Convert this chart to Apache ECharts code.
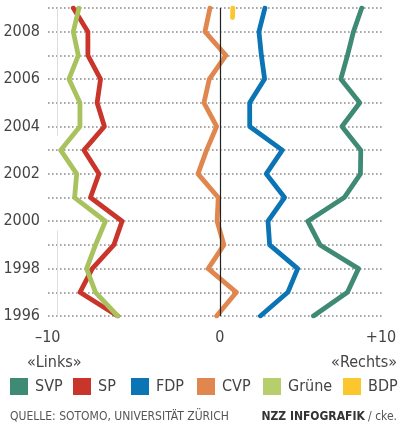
<!DOCTYPE html>
<html>
<head>
<meta charset="utf-8">
<script src="https://cdn.jsdelivr.net/npm/echarts@6/dist/echarts.min.js"></script>
<style>
  html, body { margin: 0; padding: 0; background: #fff; }
  #chart { width: 401px; height: 426px; }
</style>
</head>
<body>
<div id="chart"></div>
<script>
  // years, bottom to top
  var years = [1996, 1997, 1998, 1999, 2000, 2001, 2002, 2003, 2004, 2005, 2006, 2007, 2008, 2009];
  var yearLabels = [1996, 1998, 2000, 2002, 2004, 2006, 2008];

  // position on the left-right scale (-10 .. +10)
  var svp   = [5.77, 7.87, 8.55, 6.18, 5.42, 7.67, 8.67, 8.69, 7.53, 8.63, 7.46, 7.87, 8.24, 8.75];
  var sp    = [-6.30, -8.63, -7.87, -6.54, -6.03, -7.98, -7.46, -8.38, -7.12, -7.57, -7.36, -8.14, -8.14, -9.04];
  var fdp   = [2.50, 4.19, 4.80, 3.07, 2.97, 3.99, 2.86, 3.85, 1.84, 1.84, 2.76, 2.56, 2.41, 2.78];
  var cvp   = [-0.20, 1.02, -0.72, 0.25, -0.17, -0.10, -1.35, -0.82, -0.20, -0.98, -0.65, 0.37, -0.92, -0.61];
  var gruene = [-6.30, -7.67, -8.22, -7.67, -7.06, -8.96, -8.83, -9.82, -8.63, -8.63, -9.31, -8.73, -9.04, -8.69];
  var bdpYears = [2008.6, 2009];
  var bdp   = [0.78, 0.80];

  var xTicks = [-10, 0, 10];
  var xTickLabels = ['–10', '0', '+10'];

  var parties = ['SVP', 'SP', 'FDP', 'CVP', 'Grüne', 'BDP'];
  var colors = ['#3f8a74', '#c9352b', '#0a74b5', '#e0874f', '#a8c25e', '#fcc72c'];
  var legendColors = ['#3f8a74', '#c9352b', '#0a74b5', '#e0874f', '#b8ce6c', '#fcc72c'];
  var legendLeft = [10, 73, 131, 197, 263, 343];

  var FONT = '"Liberation Sans Narrow", "DejaVu Sans Condensed", "Roboto", sans-serif';

  function pairs(vals, ys) {
    return vals.map(function (v, i) { return [v, ys[i]]; });
  }

  var seriesData = [pairs(svp, years), pairs(sp, years), pairs(fdp, years),
                    pairs(cvp, years), pairs(gruene, years), pairs(bdp, bdpYears)];

  var series = parties.map(function (name, i) {
    return {
      name: name,
      type: 'line',
      data: seriesData[i],
      symbol: 'none',
      color: legendColors[i],
      lineStyle: { color: colors[i], width: 4.8, cap: 'round', join: 'round' },
      z: 3,
      silent: true
    };
  });

  // reference lines at -10 (faint) and 0 (black)
  series.push({
    type: 'line',
    data: [],
    silent: true,
    markLine: {
      symbol: 'none',
      silent: true,
      label: { show: false },
      animation: false,
      data: [
        [{ coord: [0, 2009], lineStyle: { color: '#222', width: 1.2, type: 'solid' } }, { coord: [0, 1996] }],
        [{ coord: [-10, 2009], lineStyle: { color: '#dedede', width: 1, type: 'solid' } }, { coord: [-10, 2003.6] }],
        [{ coord: [-10, 1999.6], lineStyle: { color: '#dedede', width: 1, type: 'solid' } }, { coord: [-10, 1996] }]
      ]
    },
    z: 1
  });

  var legends = parties.map(function (name, i) {
    return {
      data: [name],
      left: legendLeft[i],
      top: 378,
      padding: 0,
      itemWidth: 18,
      itemHeight: 17,
      icon: 'rect',
      selectedMode: false,
      textStyle: { fontFamily: FONT, fontSize: 16, color: '#444', padding: [0, 0, 0, 2] }
    };
  });

  var chart = echarts.init(document.getElementById('chart'), null, { renderer: 'canvas' });
  chart.setOption({
    animation: false,
    grid: { left: 48, right: 19, top: 8, bottom: 110 },
    legend: legends,
    xAxis: {
      type: 'value',
      min: -10.6,
      max: 10,
      axisLine: { show: false },
      axisTick: { show: false },
      splitLine: { show: false },
      axisLabel: {
        customValues: xTicks,
        showMaxLabel: true,
        margin: 14,
        fontFamily: FONT,
        fontSize: 16,
        color: '#444',
        formatter: function (v) {
          var idx = xTicks.indexOf(Math.round(v));
          if (idx === 0) return '{l|' + xTickLabels[idx] + '}';
          if (idx === 2) return '{r|' + xTickLabels[idx] + '}';
          return idx >= 0 ? xTickLabels[idx] : '';
        },
        rich: {
          l: { fontFamily: FONT, fontSize: 16, color: '#444', padding: [0, 20, 0, 0] },
          r: { fontFamily: FONT, fontSize: 16, color: '#444', padding: [0, 2, 0, 0] }
        }
      }
    },
    yAxis: {
      type: 'value',
      min: 1996,
      max: 2009,
      interval: 1,
      axisLine: { show: false },
      axisTick: { show: false },
      splitLine: {
        show: true,
        lineStyle: { color: '#8a8a8a', width: 1.6, type: [1.6, 2.4] }
      },
      axisLabel: {
        margin: 8,
        fontFamily: FONT,
        fontSize: 16,
        color: '#444',
        verticalAlign: 'middle',
        padding: [0, 0, 12, 0],
        formatter: function (v) {
          return yearLabels.indexOf(v) >= 0 ? String(v) : '';
        }
      }
    },
    graphic: [
      { type: 'text', left: 27, top: 355, style: { text: '«Links»', font: '16px ' + FONT, fill: '#444' } },
      { type: 'text', right: 4, top: 355, style: { text: '«Rechts»', font: '16px ' + FONT, fill: '#444' } },
      { type: 'text', left: 10, top: 411, style: { text: 'QUELLE: SOTOMO, UNIVERSITÄT ZÜRICH', font: '12px ' + FONT, fill: '#555' } },
      {
        type: 'text', right: 4, top: 411,
        style: {
          text: '{b|NZZ INFOGRAFIK} {n|/ cke.}',
          rich: {
            b: { font: 'bold 12px ' + FONT, fill: '#333' },
            n: { font: '12px ' + FONT, fill: '#555' }
          }
        }
      }
    ],
    series: series
  });
</script>
</body>
</html>
